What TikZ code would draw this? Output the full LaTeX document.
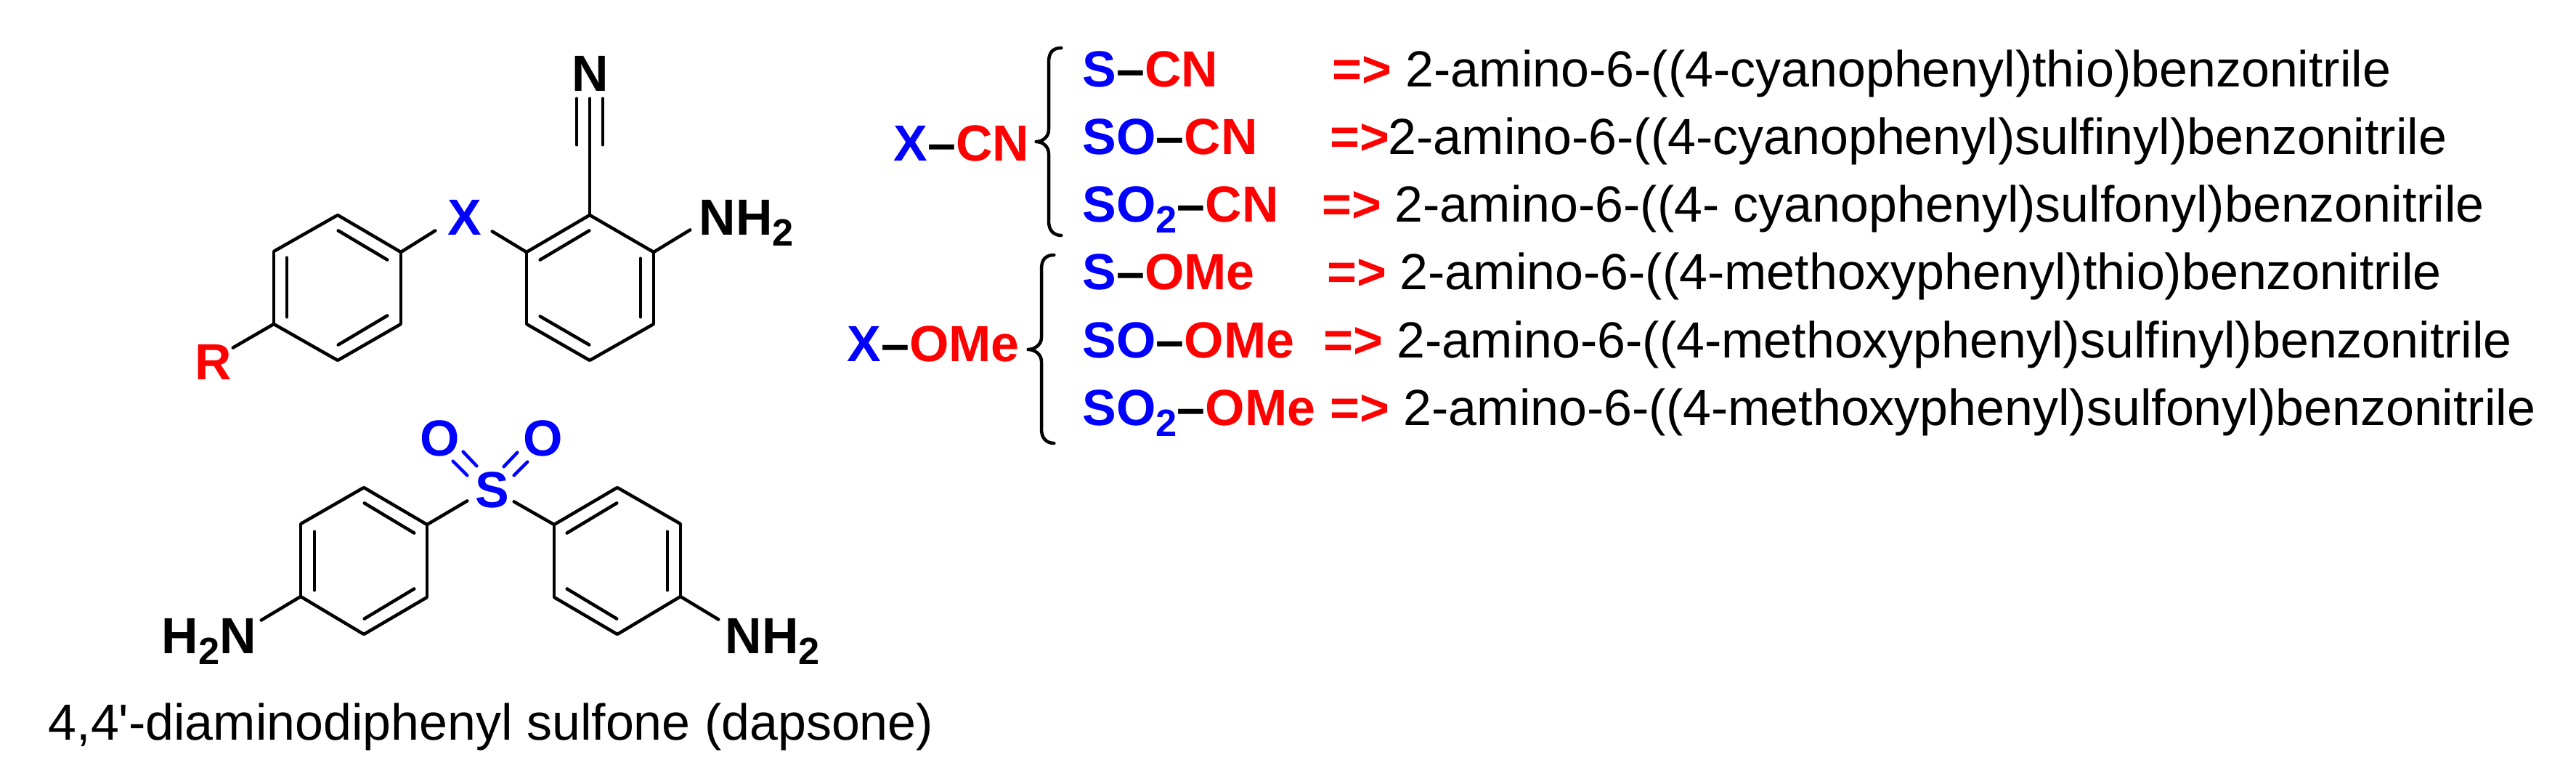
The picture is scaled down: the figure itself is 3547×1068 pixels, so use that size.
\documentclass[tikz,border=0pt]{standalone}
\usepackage{fontspec}
\setmainfont{Liberation Sans}
\newfontfamily\plainsans{Liberation Sans}
\definecolor{hetero}{RGB}{0,0,255}
\definecolor{subst}{RGB}{255,0,0}
\newcommand{\subtwo}{\raisebox{-1.5mm}{\fontsize{14.9pt}{16pt}\selectfont 2}}
\newcommand{\xpart}[2]{\textcolor{hetero}{#1}\textcolor{black}{–}\textcolor{subst}{#2}}
\tikzstyle{vertex}=[inner sep=0pt,minimum size=0pt]
\tikzstyle{bond}=[draw,line width=0.45mm,line cap=round]
\tikzstyle{sobond}=[bond,draw=hetero]
\tikzstyle{curly}=[draw,line width=0.45mm,line cap=round,line join=round]
\tikzstyle{atom}=[inner sep=0pt,anchor=base west,font=\fontsize{19.9pt}{24pt}\selectfont\bfseries]
\tikzstyle{iupac}=[inner sep=0pt,anchor=base west,font=\fontsize{19.9pt}{24pt}\selectfont]
\begin{document}
\begin{tikzpicture}[x=0.1mm,y=-0.1mm]
    \useasboundingbox (0,0) rectangle (3547,1068);
    % ring atoms, inner ends of double bonds, free ends of bonds
    \foreach \pos/\vname in {{(465,296)/a1}, {(552,347)/a2}, {(552,446)/a3}, {(465,496)/a4}, {(377,446)/a5}, {(377,346)/a6},
        {(812,296)/b1}, {(900,347)/b2}, {(900,446)/b3}, {(812,496)/b4}, {(725,446)/b5}, {(725,347)/b6},
        {(501,671)/c1}, {(588,722)/c2}, {(588,822)/c3}, {(501,873)/c4}, {(414,821)/c5}, {(414,721)/c6},
        {(850,671)/d1}, {(937,721)/d2}, {(937,821)/d3}, {(850,873)/d4}, {(763,822)/d5}, {(763,722)/d6},
        {(465,317)/ia1}, {(534,358)/ia2}, {(534,434)/ia3}, {(465,475)/ia4}, {(395,437)/ia5}, {(395,354)/ia6},
        {(812,317)/ib1}, {(882,355)/ib2}, {(882,437)/ib3}, {(812,475)/ib4}, {(743,435)/ib5}, {(743,358)/ib6},
        {(501,692)/ic1}, {(571,734)/ic2}, {(571,810)/ic3}, {(501,852)/ic4}, {(433,813)/ic5}, {(433,731)/ic6},
        {(850,692)/id1}, {(919,731)/id2}, {(919,813)/id3}, {(850,852)/id4}, {(780,810)/id5}, {(780,734)/id6},
        {(600,317)/xl}, {(677,318)/xr}, {(320,479)/rr}, {(951,316)/nb}, {(812,135)/cn}, {(794,135)/cnl}, {(794,200)/cnm}, {(830,135)/cnr}, {(830,200)/cns},
        {(644,689)/sl}, {(707,690)/sr}, {(359,854)/nl}, {(990,853)/nr},
        {(623,634)/oa}, {(644,655)/ob}, {(637,621)/oc}, {(657,642)/od}, {(713,622)/oe}, {(693,643)/of}, {(727,635)/og}, {(707,655)/oh},
        {(1462,66)/ba}, {(1444,86)/bb}, {(1444,178)/bc}, {(1426,195)/bd}, {(1444,212)/be}, {(1444,304)/bf}, {(1462,324)/bg},
        {(1452,351)/ca}, {(1434,371)/cb}, {(1434,464)/cc}, {(1415,481)/cd}, {(1434,498)/ce}, {(1434,590)/cf}, {(1452,610)/cg}}
        \node[vertex] (\vname) at \pos {};
    % bonds
    \foreach \source/ \dest in {a1/a2, a2/a3, a3/a4, a4/a5, a5/a6, a6/a1, ia1/ia2, ia3/ia4, ia5/ia6,
        b1/b2, b2/b3, b3/b4, b4/b5, b5/b6, b6/b1, ib1/ib6, ib3/ib2, ib4/ib5,
        c1/c2, c2/c3, c3/c4, c4/c5, c5/c6, c6/c1, ic1/ic2, ic3/ic4, ic5/ic6,
        d1/d2, d2/d3, d3/d4, d4/d5, d5/d6, d6/d1, id1/id6, id2/id3, id4/id5,
        a2/xl, b6/xr, a5/rr, b2/nb, b1/cn, cnl/cnm, cnr/cns, c2/sl, d6/sr, c5/nl, d3/nr}
        \path[bond] (\source) -- (\dest);
    \foreach \source/ \dest in {oa/ob, oc/od, oe/of, og/oh}
        \path[sobond] (\source) -- (\dest);
    % atom labels
    \node[atom] (ntop) at (787,126) {N};
    \node[atom,text=hetero] (xlink) at (616,324) {X};
    \node[atom] (amine) at (962,324) {NH\subtwo};
    \node[atom,text=subst] (rgroup) at (268,523) {R};
    \node[atom,text=hetero] (sulf) at (654,699) {S};
    \node[atom,text=hetero] (oxa) at (578,628) {O};
    \node[atom,text=hetero] (oxb) at (720,628) {O};
    \node[atom] (aminel) at (222,899) {H\subtwo N};
    \node[atom] (aminer) at (998,899) {NH\subtwo};
    \node[iupac] (dapsone) at (66,1018) {\plainsans 4,4'-diaminodiphenyl sulfone (dapsone)};
    % group labels
    \node[atom] (xcn) at (1230,222) {\xpart{X}{CN}};
    \node[atom] (xome) at (1166,498) {\xpart{X}{OMe}};
    % rows
    \foreach \ypos/\row/\frm/\ax/\bx/\txt in {
        120/ra/{S}{CN}/1834/1935/{2-amino-6-((4-cyanophenyl)thio)benzonitrile},
        213/rb/{SO}{CN}/1831/1911/{2-amino-6-((4-cyanophenyl)sulfinyl)benzonitrile},
        306/rc/{SO\subtwo}{CN}/1820/1920/{2-amino-6-((4- cyanophenyl)sulfonyl)benzonitrile},
        399/rd/{S}{OMe}/1827/1927/{2-amino-6-((4-methoxyphenyl)thio)benzonitrile},
        493/re/{SO}{OMe}/1822/1923/{2-amino-6-((4-methoxyphenyl)sulfinyl)benzonitrile},
        586/rf/{SO\subtwo}{OMe}/1831/1932/{2-amino-6-((4-methoxyphenyl)sulfonyl)benzonitrile}}
    {
        \node[atom] (\row f) at (1490,\ypos) {\expandafter\xpart\frm};
        \node[atom,text=subst] (\row a) at (\ax,\ypos) {=>};
        \node[iupac] (\row t) at (\bx,\ypos) {\txt};
    }
    % braces
    \path[curly] (ba) .. controls (1450,66) and (1444,72) .. (bb) -- (bc) .. controls (1444,188) and (1436,195) .. (bd)
        .. controls (1436,195) and (1444,202) .. (be) -- (bf) .. controls (1444,316) and (1450,324) .. (bg);
    \path[curly] (ca) .. controls (1440,351) and (1434,357) .. (cb) -- (cc) .. controls (1434,474) and (1425,481) .. (cd)
        .. controls (1425,481) and (1434,488) .. (ce) -- (cf) .. controls (1434,602) and (1440,610) .. (cg);
\end{tikzpicture}
\end{document}
